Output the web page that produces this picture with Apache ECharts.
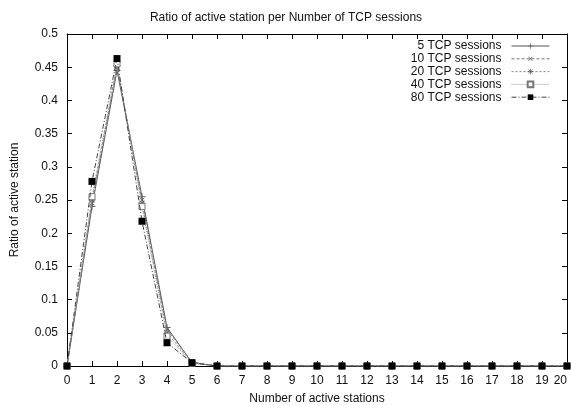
<!DOCTYPE html>
<html><head><meta charset="utf-8">
<script src="https://cdn.jsdelivr.net/npm/echarts@6/dist/echarts.min.js"></script>
<style>html,body{margin:0;padding:0;background:#fff}#c{width:572px;height:405px}</style>
</head><body><div id="c"></div>
<script>
const xValues = [0,1,2,3,4,5,6,7,8,9,10,11,12,13,14,15,16,17,18,19,20];
const s5  = [0,0.240,0.445,0.255,0.058,0.005,0,0,0,0,0,0,0,0,0,0,0,0,0,0,0];
const s10 = [0,0.245,0.450,0.250,0.055,0.006,0,0,0,0,0,0,0,0,0,0,0,0,0,0,0];
const s20 = [0,0.250,0.452,0.245,0.050,0.005,0,0,0,0,0,0,0,0,0,0,0,0,0,0,0];
const s40 = [0,0.255,0.455,0.240,0.045,0.004,0,0,0,0,0,0,0,0,0,0,0,0,0,0,0];
const s80 = [0,0.278,0.463,0.218,0.035,0.005,0,0,0,0,0,0,0,0,0,0,0,0,0,0,0];
const seriesNames = ['5 TCP sessions','10 TCP sessions','20 TCP sessions','40 TCP sessions','80 TCP sessions'];
const titleText = 'Ratio of active station per Number of TCP sessions';
const xName = 'Number of active stations';
const yName = 'Ratio of active station';

const FONT = 'Liberation Sans, Arial, sans-serif';
const plus = 'path://M4.4,0h1.2v4.4h4.4v1.2h-4.4v4.4h-1.2v-4.4h-4.4v-1.2h4.4z';
const star = 'path://M4.4,0h1.2v3.6l2.6,-2.6l0.8,0.8l-2.6,2.6h3.6v1.2h-3.6l2.6,2.6l-0.8,0.8l-2.6,-2.6v3.6h-1.2v-3.6l-2.6,2.6l-0.8,-0.8l2.6,-2.6h-3.6v-1.2h3.6l-2.6,-2.6l0.8,-0.8l2.6,2.6z';
const styles = [
  {color:'#555', type:'solid', symbol:plus, rot:0, size:7, fill:'#555'},
  {color:'#777', type:[3,2], symbol:plus, rot:45, size:7, fill:'#666'},
  {color:'#888', type:[2,2], symbol:star, rot:0, size:7, fill:'#666'},
  {color:'#999', type:[1,1], symbol:'rect', rot:0, size:6, fill:'#fff', border:'#777'},
  {color:'#444', type:[5,2,1,2], symbol:'rect', rot:0, size:7, fill:'#000'}
];
const dataArr = [s5,s10,s20,s40,s80];

const series = dataArr.map((d,i)=>({
  name: seriesNames[i], type:'line', xAxisIndex:0, yAxisIndex:0,
  data: d.map((v,j)=>[xValues[j], v]),
  symbol: styles[i].symbol, symbolRotate: styles[i].rot, symbolSize: styles[i].size,
  showAllSymbol: true, animation:false, z: 2+i,
  lineStyle:{color:styles[i].color, width:1, type:styles[i].type},
  itemStyle:{color:styles[i].fill, borderColor: styles[i].border || styles[i].fill, borderWidth: styles[i].border?1:0, opacity:1}
}));

const legends = seriesNames.map((n,i)=>({
  data:[n], right:22, top:40 + i*12.8, align:'right', itemWidth:38, itemHeight:7, itemGap:0,
  padding:0, selectedMode:false,
  lineStyle:{width:1},
  textStyle:{fontFamily:FONT, fontSize:12, color:'#111', padding:[0,5,0,0]}
}));

const axisLbl = {fontFamily:FONT, fontSize:12, color:'#111'};
const chart = echarts.init(document.getElementById('c'), null, {renderer:'canvas'});
chart.setOption({
  animation:false,
  backgroundColor:'#fff',
  title:{text:titleText, left:'center', top:7, textStyle:{fontFamily:FONT, fontSize:12, fontWeight:'normal', color:'#111'}},
  legend: legends,
  grid:{left:67, right:5, top:34, bottom:39, containLabel:false, outerBoundsMode:'none'},
  xAxis:[
    {type:'value', min:0, max:20, interval:1, position:'bottom',
     name:xName, nameLocation:'middle', nameGap:27, nameTextStyle:{fontFamily:FONT, fontSize:12, color:'#111'},
     axisLine:{show:true, onZero:false, lineStyle:{color:'#000', width:1}},
     axisTick:{show:true, inside:true, length:5, lineStyle:{color:'#000'}},
     axisLabel:Object.assign({margin:9, alignMaxLabel:'right'}, axisLbl), splitLine:{show:false}},
    {type:'value', min:0, max:20, interval:1, position:'top',
     axisLine:{show:true, onZero:false, lineStyle:{color:'#000', width:1}},
     axisTick:{show:true, inside:true, length:5, lineStyle:{color:'#000'}},
     axisLabel:{show:false}, splitLine:{show:false}}
  ],
  yAxis:[
    {type:'value', min:0, max:0.5, interval:0.05, position:'left',
     name:yName, nameLocation:'middle', nameGap:46, nameTextStyle:{fontFamily:FONT, fontSize:12, color:'#111'},
     axisLine:{show:true, onZero:false, lineStyle:{color:'#000', width:1}},
     axisTick:{show:true, inside:true, length:5, lineStyle:{color:'#000'}},
     axisLabel:Object.assign({margin:9}, axisLbl), splitLine:{show:false}},
    {type:'value', min:0, max:0.5, interval:0.05, position:'right',
     axisLine:{show:true, onZero:false, lineStyle:{color:'#000', width:1}},
     axisTick:{show:true, inside:true, length:5, lineStyle:{color:'#000'}},
     axisLabel:{show:false}, splitLine:{show:false}}
  ],
  series: series
});
</script></body></html>
